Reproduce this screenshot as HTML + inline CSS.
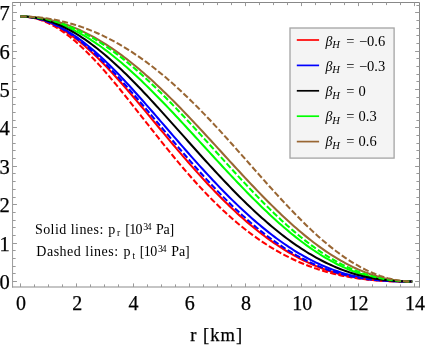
<!DOCTYPE html>
<html><head><meta charset="utf-8"><title>plot</title>
<style>
html,body{margin:0;padding:0;background:#fff;}
svg{display:block;opacity:0.999;will-change:transform;font-family:"Liberation Serif",serif;}
.ax text{font-size:20px;fill:#000;stroke:#000;stroke-width:0.25px;}
.lg{font-size:14.5px;fill:#000;}
.an{font-size:14px;fill:#000;} .sm{font-size:9.6px;fill:#000;}
</style></head><body>
<svg width="425" height="348" viewBox="0 0 425 348">
<rect width="425" height="348" fill="#fff"/>
<g fill="none" stroke-width="2.05" stroke-linecap="butt" stroke-linejoin="round">
<path d="M20.50 16.50 L22.96 16.55 L25.43 16.68 L27.89 16.91 L30.35 17.24 L32.82 17.65 L35.28 18.16 L37.75 18.75 L40.21 19.44 L42.67 20.21 L45.14 21.07 L47.60 22.02 L50.06 23.06 L52.53 24.18 L54.99 25.38 L57.45 26.67 L59.92 28.04 L62.38 29.48 L64.84 31.01 L67.31 32.61 L69.77 34.29 L72.24 36.04 L74.70 37.86 L77.16 39.75 L79.63 41.70 L82.09 43.73 L84.55 45.81 L87.02 47.96 L89.48 50.17 L91.94 52.43 L94.41 54.75 L96.87 57.12 L99.33 59.54 L101.80 62.01 L104.26 64.53 L106.73 67.09 L109.19 69.69 L111.65 72.33 L114.12 75.01 L116.58 77.72 L119.04 80.47 L121.51 83.24 L123.97 86.04 L126.43 88.87 L128.90 91.72 L131.36 94.60 L133.82 97.49 L136.29 100.40 L138.75 103.32 L141.22 106.26 L143.68 109.21 L146.14 112.16 L148.61 115.12 L151.07 118.09 L153.53 121.06 L156.00 124.03 L158.46 127.01 L160.92 129.97 L163.39 132.94 L165.85 135.90 L168.31 138.85 L170.78 141.79 L173.24 144.72 L175.71 147.64 L178.17 150.55 L180.63 153.44 L183.10 156.32 L185.56 159.17 L188.02 162.01 L190.49 164.83 L192.95 167.63 L195.41 170.41 L197.88 173.16 L200.34 175.89 L202.80 178.60 L205.27 181.28 L207.73 183.93 L210.20 186.55 L212.66 189.15 L215.12 191.71 L217.59 194.25 L220.05 196.76 L222.51 199.23 L224.98 201.67 L227.44 204.08 L229.90 206.46 L232.37 208.80 L234.83 211.11 L237.29 213.38 L239.76 215.62 L242.22 217.82 L244.69 219.99 L247.15 222.12 L249.61 224.21 L252.08 226.27 L254.54 228.29 L257.00 230.27 L259.47 232.22 L261.93 234.12 L264.39 235.99 L266.86 237.82 L269.32 239.61 L271.78 241.36 L274.25 243.07 L276.71 244.74 L279.18 246.37 L281.64 247.97 L284.10 249.52 L286.57 251.03 L289.03 252.51 L291.49 253.94 L293.96 255.34 L296.42 256.69 L298.88 258.00 L301.35 259.28 L303.81 260.51 L306.27 261.70 L308.74 262.86 L311.20 263.97 L313.67 265.05 L316.13 266.08 L318.59 267.08 L321.06 268.04 L323.52 268.96 L325.98 269.84 L328.45 270.68 L330.91 271.49 L333.37 272.25 L335.84 272.98 L338.30 273.68 L340.77 274.34 L343.23 274.96 L345.69 275.55 L348.16 276.10 L350.62 276.62 L353.08 277.11 L355.55 277.57 L358.01 277.99 L360.47 278.39 L362.94 278.75 L365.40 279.09 L367.86 279.40 L370.33 279.68 L372.79 279.94 L375.26 280.17 L377.72 280.38 L380.18 280.57 L382.65 280.73 L385.11 280.88 L387.57 281.01 L390.04 281.12 L392.50 281.21 L394.96 281.29 L397.43 281.35 L399.89 281.40 L402.35 281.44 L404.82 281.47 L407.28 281.49 L409.75 281.50 L412.21 281.50" stroke="#ff0000"/>
<path d="M20.50 16.50 L22.96 16.54 L25.43 16.67 L27.89 16.87 L30.35 17.16 L32.82 17.53 L35.28 17.98 L37.75 18.52 L40.21 19.13 L42.67 19.83 L45.14 20.60 L47.60 21.46 L50.06 22.39 L52.53 23.39 L54.99 24.48 L57.45 25.64 L59.92 26.87 L62.38 28.18 L64.84 29.55 L67.31 31.00 L69.77 32.52 L72.24 34.10 L74.70 35.75 L77.16 37.46 L79.63 39.24 L82.09 41.08 L84.55 42.97 L87.02 44.93 L89.48 46.94 L91.94 49.01 L94.41 51.13 L96.87 53.30 L99.33 55.52 L101.80 57.79 L104.26 60.10 L106.73 62.46 L109.19 64.85 L111.65 67.29 L114.12 69.77 L116.58 72.28 L119.04 74.83 L121.51 77.41 L123.97 80.02 L126.43 82.65 L128.90 85.32 L131.36 88.01 L133.82 90.72 L136.29 93.46 L138.75 96.21 L141.22 98.98 L143.68 101.77 L146.14 104.57 L148.61 107.38 L151.07 110.21 L153.53 113.04 L156.00 115.88 L158.46 118.72 L160.92 121.57 L163.39 124.43 L165.85 127.28 L168.31 130.13 L170.78 132.99 L173.24 135.83 L175.71 138.68 L178.17 141.52 L180.63 144.35 L183.10 147.17 L185.56 149.98 L188.02 152.78 L190.49 155.57 L192.95 158.34 L195.41 161.10 L197.88 163.85 L200.34 166.58 L202.80 169.29 L205.27 171.98 L207.73 174.65 L210.20 177.31 L212.66 179.94 L215.12 182.54 L217.59 185.13 L220.05 187.69 L222.51 190.23 L224.98 192.74 L227.44 195.22 L229.90 197.68 L232.37 200.11 L234.83 202.51 L237.29 204.88 L239.76 207.23 L242.22 209.54 L244.69 211.82 L247.15 214.08 L249.61 216.29 L252.08 218.48 L254.54 220.64 L257.00 222.76 L259.47 224.84 L261.93 226.90 L264.39 228.91 L266.86 230.90 L269.32 232.84 L271.78 234.75 L274.25 236.63 L276.71 238.46 L279.18 240.26 L281.64 242.02 L284.10 243.75 L286.57 245.43 L289.03 247.08 L291.49 248.69 L293.96 250.26 L296.42 251.79 L298.88 253.27 L301.35 254.72 L303.81 256.13 L306.27 257.50 L308.74 258.83 L311.20 260.12 L313.67 261.36 L316.13 262.57 L318.59 263.73 L321.06 264.86 L323.52 265.94 L325.98 266.98 L328.45 267.98 L330.91 268.94 L333.37 269.86 L335.84 270.74 L338.30 271.58 L340.77 272.38 L343.23 273.14 L345.69 273.86 L348.16 274.54 L350.62 275.19 L353.08 275.80 L355.55 276.37 L358.01 276.90 L360.47 277.40 L362.94 277.86 L365.40 278.29 L367.86 278.69 L370.33 279.06 L372.79 279.39 L375.26 279.70 L377.72 279.97 L380.18 280.22 L382.65 280.44 L385.11 280.64 L387.57 280.81 L390.04 280.96 L392.50 281.09 L394.96 281.19 L397.43 281.28 L399.89 281.36 L402.35 281.41 L404.82 281.45 L407.28 281.48 L409.75 281.50 L412.21 281.50" stroke="#0000ff"/>
<path d="M20.50 16.50 L22.96 16.53 L25.43 16.62 L27.89 16.77 L30.35 16.97 L32.82 17.24 L35.28 17.57 L37.75 17.95 L40.21 18.39 L42.67 18.89 L45.14 19.45 L47.60 20.07 L50.06 20.75 L52.53 21.48 L54.99 22.26 L57.45 23.11 L59.92 24.01 L62.38 24.96 L64.84 25.98 L67.31 27.04 L69.77 28.16 L72.24 29.33 L74.70 30.55 L77.16 31.83 L79.63 33.16 L82.09 34.53 L84.55 35.96 L87.02 37.44 L89.48 38.96 L91.94 40.54 L94.41 42.16 L96.87 43.82 L99.33 45.53 L101.80 47.29 L104.26 49.08 L106.73 50.92 L109.19 52.81 L111.65 54.73 L114.12 56.69 L116.58 58.69 L119.04 60.73 L121.51 62.81 L123.97 64.92 L126.43 67.07 L128.90 69.25 L131.36 71.46 L133.82 73.71 L136.29 75.98 L138.75 78.29 L141.22 80.62 L143.68 82.98 L146.14 85.37 L148.61 87.78 L151.07 90.22 L153.53 92.68 L156.00 95.16 L158.46 97.67 L160.92 100.19 L163.39 102.73 L165.85 105.29 L168.31 107.87 L170.78 110.46 L173.24 113.07 L175.71 115.69 L178.17 118.32 L180.63 120.96 L183.10 123.61 L185.56 126.27 L188.02 128.94 L190.49 131.62 L192.95 134.30 L195.41 136.98 L197.88 139.67 L200.34 142.36 L202.80 145.05 L205.27 147.74 L207.73 150.43 L210.20 153.12 L212.66 155.80 L215.12 158.48 L217.59 161.16 L220.05 163.82 L222.51 166.48 L224.98 169.14 L227.44 171.78 L229.90 174.41 L232.37 177.03 L234.83 179.63 L237.29 182.22 L239.76 184.80 L242.22 187.36 L244.69 189.90 L247.15 192.43 L249.61 194.93 L252.08 197.42 L254.54 199.89 L257.00 202.33 L259.47 204.75 L261.93 207.14 L264.39 209.51 L266.86 211.86 L269.32 214.18 L271.78 216.46 L274.25 218.73 L276.71 220.96 L279.18 223.16 L281.64 225.32 L284.10 227.46 L286.57 229.56 L289.03 231.63 L291.49 233.67 L293.96 235.66 L296.42 237.63 L298.88 239.55 L301.35 241.44 L303.81 243.28 L306.27 245.09 L308.74 246.86 L311.20 248.59 L313.67 250.27 L316.13 251.91 L318.59 253.51 L321.06 255.07 L323.52 256.58 L325.98 258.05 L328.45 259.48 L330.91 260.86 L333.37 262.19 L335.84 263.48 L338.30 264.72 L340.77 265.92 L343.23 267.07 L345.69 268.17 L348.16 269.23 L350.62 270.24 L353.08 271.20 L355.55 272.12 L358.01 272.99 L360.47 273.82 L362.94 274.60 L365.40 275.33 L367.86 276.02 L370.33 276.66 L372.79 277.26 L375.26 277.82 L377.72 278.33 L380.18 278.80 L382.65 279.23 L385.11 279.62 L387.57 279.96 L390.04 280.27 L392.50 280.55 L394.96 280.78 L397.43 280.98 L399.89 281.14 L402.35 281.28 L404.82 281.38 L407.28 281.45 L409.75 281.49 L412.21 281.50" stroke="#00ff00"/>
<path d="M20.50 16.50 L22.96 16.52 L25.43 16.59 L27.89 16.71 L30.35 16.88 L32.82 17.09 L35.28 17.35 L37.75 17.66 L40.21 18.01 L42.67 18.42 L45.14 18.86 L47.60 19.36 L50.06 19.90 L52.53 20.49 L54.99 21.13 L57.45 21.81 L59.92 22.54 L62.38 23.31 L64.84 24.13 L67.31 25.00 L69.77 25.91 L72.24 26.87 L74.70 27.87 L77.16 28.92 L79.63 30.01 L82.09 31.15 L84.55 32.33 L87.02 33.56 L89.48 34.83 L91.94 36.14 L94.41 37.50 L96.87 38.90 L99.33 40.34 L101.80 41.82 L104.26 43.35 L106.73 44.91 L109.19 46.52 L111.65 48.17 L114.12 49.86 L116.58 51.58 L119.04 53.35 L121.51 55.15 L123.97 57.00 L126.43 58.88 L128.90 60.79 L131.36 62.75 L133.82 64.74 L136.29 66.76 L138.75 68.82 L141.22 70.91 L143.68 73.04 L146.14 75.19 L148.61 77.38 L151.07 79.60 L153.53 81.85 L156.00 84.13 L158.46 86.44 L160.92 88.77 L163.39 91.14 L165.85 93.52 L168.31 95.94 L170.78 98.37 L173.24 100.83 L175.71 103.31 L178.17 105.82 L180.63 108.34 L183.10 110.88 L185.56 113.44 L188.02 116.02 L190.49 118.61 L192.95 121.22 L195.41 123.84 L197.88 126.47 L200.34 129.12 L202.80 131.77 L205.27 134.44 L207.73 137.11 L210.20 139.79 L212.66 142.48 L215.12 145.17 L217.59 147.86 L220.05 150.55 L222.51 153.25 L224.98 155.94 L227.44 158.63 L229.90 161.32 L232.37 164.01 L234.83 166.69 L237.29 169.36 L239.76 172.03 L242.22 174.68 L244.69 177.33 L247.15 179.96 L249.61 182.58 L252.08 185.19 L254.54 187.78 L257.00 190.35 L259.47 192.91 L261.93 195.44 L264.39 197.96 L266.86 200.46 L269.32 202.93 L271.78 205.38 L274.25 207.80 L276.71 210.20 L279.18 212.58 L281.64 214.92 L284.10 217.24 L286.57 219.52 L289.03 221.78 L291.49 224.00 L293.96 226.19 L296.42 228.35 L298.88 230.47 L301.35 232.56 L303.81 234.61 L306.27 236.62 L308.74 238.60 L311.20 240.54 L313.67 242.44 L316.13 244.30 L318.59 246.12 L321.06 247.90 L323.52 249.63 L325.98 251.33 L328.45 252.98 L330.91 254.59 L333.37 256.16 L335.84 257.68 L338.30 259.15 L340.77 260.59 L343.23 261.97 L345.69 263.32 L348.16 264.61 L350.62 265.86 L353.08 267.06 L355.55 268.22 L358.01 269.33 L360.47 270.39 L362.94 271.41 L365.40 272.38 L367.86 273.30 L370.33 274.17 L372.79 275.00 L375.26 275.77 L377.72 276.50 L380.18 277.18 L382.65 277.81 L385.11 278.39 L387.57 278.93 L390.04 279.41 L392.50 279.84 L394.96 280.23 L397.43 280.56 L399.89 280.85 L402.35 281.08 L404.82 281.26 L407.28 281.39 L409.75 281.47 L412.21 281.50" stroke="#996633"/>
<path d="M20.50 16.50 L22.96 16.55 L25.43 16.71 L27.89 16.98 L30.35 17.35 L32.82 17.82 L35.28 18.40 L37.75 19.08 L40.21 19.86 L42.67 20.75 L45.14 21.74 L47.60 22.82 L50.06 24.00 L52.53 25.28 L54.99 26.66 L57.45 28.12 L59.92 29.68 L62.38 31.33 L64.84 33.06 L67.31 34.88 L69.77 36.78 L72.24 38.76 L74.70 40.82 L77.16 42.96 L79.63 45.16 L82.09 47.44 L84.55 49.79 L87.02 52.20 L89.48 54.68 L91.94 57.21 L94.41 59.80 L96.87 62.44 L99.33 65.14 L101.80 67.88 L104.26 70.67 L106.73 73.51 L109.19 76.38 L111.65 79.29 L114.12 82.23 L116.58 85.20 L119.04 88.21 L121.51 91.24 L123.97 94.29 L126.43 97.36 L128.90 100.45 L131.36 103.55 L133.82 106.66 L136.29 109.79 L138.75 112.92 L141.22 116.06 L143.68 119.20 L146.14 122.33 L148.61 125.47 L151.07 128.60 L153.53 131.72 L156.00 134.84 L158.46 137.94 L160.92 141.04 L163.39 144.11 L165.85 147.17 L168.31 150.21 L170.78 153.23 L173.24 156.23 L175.71 159.21 L178.17 162.16 L180.63 165.09 L183.10 167.99 L185.56 170.86 L188.02 173.70 L190.49 176.50 L192.95 179.28 L195.41 182.02 L197.88 184.73 L200.34 187.41 L202.80 190.05 L205.27 192.65 L207.73 195.22 L210.20 197.74 L212.66 200.23 L215.12 202.68 L217.59 205.10 L220.05 207.47 L222.51 209.80 L224.98 212.09 L227.44 214.34 L229.90 216.55 L232.37 218.72 L234.83 220.85 L237.29 222.94 L239.76 224.98 L242.22 226.99 L244.69 228.95 L247.15 230.87 L249.61 232.75 L252.08 234.59 L254.54 236.39 L257.00 238.15 L259.47 239.86 L261.93 241.54 L264.39 243.17 L266.86 244.76 L269.32 246.32 L271.78 247.83 L274.25 249.31 L276.71 250.74 L279.18 252.14 L281.64 253.50 L284.10 254.81 L286.57 256.10 L289.03 257.34 L291.49 258.54 L293.96 259.71 L296.42 260.84 L298.88 261.94 L301.35 263.00 L303.81 264.02 L306.27 265.01 L308.74 265.96 L311.20 266.88 L313.67 267.77 L316.13 268.62 L318.59 269.44 L321.06 270.22 L323.52 270.98 L325.98 271.70 L328.45 272.39 L330.91 273.05 L333.37 273.68 L335.84 274.28 L338.30 274.85 L340.77 275.39 L343.23 275.90 L345.69 276.39 L348.16 276.85 L350.62 277.28 L353.08 277.68 L355.55 278.07 L358.01 278.42 L360.47 278.75 L362.94 279.06 L365.40 279.35 L367.86 279.61 L370.33 279.86 L372.79 280.08 L375.26 280.28 L377.72 280.47 L380.18 280.63 L382.65 280.78 L385.11 280.91 L387.57 281.03 L390.04 281.13 L392.50 281.22 L394.96 281.29 L397.43 281.35 L399.89 281.40 L402.35 281.44 L404.82 281.47 L407.28 281.49 L409.75 281.50 L412.21 281.50" stroke="#ff0000" stroke-dasharray="6 2.4"/>
<path d="M20.50 16.50 L22.96 16.54 L25.43 16.68 L27.89 16.90 L30.35 17.20 L32.82 17.60 L35.28 18.08 L37.75 18.64 L40.21 19.30 L42.67 20.03 L45.14 20.86 L47.60 21.76 L50.06 22.75 L52.53 23.82 L54.99 24.97 L57.45 26.20 L59.92 27.50 L62.38 28.88 L64.84 30.34 L67.31 31.88 L69.77 33.48 L72.24 35.16 L74.70 36.90 L77.16 38.71 L79.63 40.59 L82.09 42.53 L84.55 44.54 L87.02 46.60 L89.48 48.73 L91.94 50.91 L94.41 53.14 L96.87 55.43 L99.33 57.76 L101.80 60.15 L104.26 62.58 L106.73 65.06 L109.19 67.58 L111.65 70.14 L114.12 72.74 L116.58 75.37 L119.04 78.04 L121.51 80.74 L123.97 83.47 L126.43 86.22 L128.90 89.01 L131.36 91.81 L133.82 94.64 L136.29 97.49 L138.75 100.36 L141.22 103.24 L143.68 106.13 L146.14 109.04 L148.61 111.95 L151.07 114.88 L153.53 117.81 L156.00 120.74 L158.46 123.68 L160.92 126.62 L163.39 129.56 L165.85 132.49 L168.31 135.42 L170.78 138.35 L173.24 141.27 L175.71 144.18 L178.17 147.08 L180.63 149.97 L183.10 152.84 L185.56 155.71 L188.02 158.55 L190.49 161.38 L192.95 164.19 L195.41 166.99 L197.88 169.76 L200.34 172.51 L202.80 175.24 L205.27 177.94 L207.73 180.62 L210.20 183.28 L212.66 185.91 L215.12 188.51 L217.59 191.09 L220.05 193.63 L222.51 196.15 L224.98 198.63 L227.44 201.09 L229.90 203.51 L232.37 205.91 L234.83 208.26 L237.29 210.59 L239.76 212.88 L242.22 215.14 L244.69 217.36 L247.15 219.55 L249.61 221.70 L252.08 223.81 L254.54 225.89 L257.00 227.93 L259.47 229.93 L261.93 231.90 L264.39 233.82 L266.86 235.71 L269.32 237.56 L271.78 239.37 L274.25 241.14 L276.71 242.87 L279.18 244.56 L281.64 246.22 L284.10 247.83 L286.57 249.40 L289.03 250.93 L291.49 252.42 L293.96 253.87 L296.42 255.28 L298.88 256.65 L301.35 257.97 L303.81 259.26 L306.27 260.51 L308.74 261.71 L311.20 262.88 L313.67 264.00 L316.13 265.09 L318.59 266.13 L321.06 267.14 L323.52 268.10 L325.98 269.03 L328.45 269.91 L330.91 270.76 L333.37 271.57 L335.84 272.34 L338.30 273.07 L340.77 273.77 L343.23 274.43 L345.69 275.06 L348.16 275.65 L350.62 276.20 L353.08 276.72 L355.55 277.21 L358.01 277.67 L360.47 278.09 L362.94 278.48 L365.40 278.85 L367.86 279.18 L370.33 279.49 L372.79 279.77 L375.26 280.02 L377.72 280.25 L380.18 280.45 L382.65 280.64 L385.11 280.80 L387.57 280.94 L390.04 281.06 L392.50 281.17 L394.96 281.25 L397.43 281.33 L399.89 281.38 L402.35 281.43 L404.82 281.46 L407.28 281.48 L409.75 281.50 L412.21 281.50" stroke="#0000ff" stroke-dasharray="6 2.4"/>
<path d="M20.50 16.50 L22.96 16.53 L25.43 16.64 L27.89 16.81 L30.35 17.06 L32.82 17.37 L35.28 17.76 L37.75 18.21 L40.21 18.73 L42.67 19.32 L45.14 19.98 L47.60 20.70 L50.06 21.49 L52.53 22.35 L54.99 23.27 L57.45 24.26 L59.92 25.32 L62.38 26.43 L64.84 27.61 L67.31 28.86 L69.77 30.16 L72.24 31.52 L74.70 32.94 L77.16 34.43 L79.63 35.97 L82.09 37.56 L84.55 39.21 L87.02 40.92 L89.48 42.67 L91.94 44.48 L94.41 46.34 L96.87 48.25 L99.33 50.21 L101.80 52.22 L104.26 54.27 L106.73 56.36 L109.19 58.50 L111.65 60.68 L114.12 62.90 L116.58 65.16 L119.04 67.45 L121.51 69.79 L123.97 72.15 L126.43 74.55 L128.90 76.99 L131.36 79.45 L133.82 81.94 L136.29 84.46 L138.75 87.01 L141.22 89.58 L143.68 92.17 L146.14 94.79 L148.61 97.42 L151.07 100.08 L153.53 102.75 L156.00 105.44 L158.46 108.14 L160.92 110.85 L163.39 113.58 L165.85 116.32 L168.31 119.07 L170.78 121.82 L173.24 124.58 L175.71 127.35 L178.17 130.12 L180.63 132.89 L183.10 135.66 L185.56 138.43 L188.02 141.20 L190.49 143.97 L192.95 146.73 L195.41 149.49 L197.88 152.24 L200.34 154.99 L202.80 157.72 L205.27 160.44 L207.73 163.16 L210.20 165.86 L212.66 168.54 L215.12 171.22 L217.59 173.87 L220.05 176.51 L222.51 179.14 L224.98 181.74 L227.44 184.32 L229.90 186.88 L232.37 189.43 L234.83 191.94 L237.29 194.44 L239.76 196.91 L242.22 199.36 L244.69 201.77 L247.15 204.17 L249.61 206.53 L252.08 208.87 L254.54 211.18 L257.00 213.45 L259.47 215.70 L261.93 217.91 L264.39 220.10 L266.86 222.25 L269.32 224.36 L271.78 226.45 L274.25 228.50 L276.71 230.51 L279.18 232.49 L281.64 234.43 L284.10 236.33 L286.57 238.20 L289.03 240.03 L291.49 241.82 L293.96 243.57 L296.42 245.29 L298.88 246.96 L301.35 248.60 L303.81 250.19 L306.27 251.75 L308.74 253.26 L311.20 254.74 L313.67 256.17 L316.13 257.56 L318.59 258.91 L321.06 260.22 L323.52 261.49 L325.98 262.71 L328.45 263.90 L330.91 265.04 L333.37 266.14 L335.84 267.20 L338.30 268.22 L340.77 269.19 L343.23 270.13 L345.69 271.02 L348.16 271.87 L350.62 272.69 L353.08 273.46 L355.55 274.19 L358.01 274.89 L360.47 275.54 L362.94 276.16 L365.40 276.74 L367.86 277.28 L370.33 277.78 L372.79 278.25 L375.26 278.68 L377.72 279.08 L380.18 279.44 L382.65 279.77 L385.11 280.07 L387.57 280.34 L390.04 280.57 L392.50 280.78 L394.96 280.96 L397.43 281.11 L399.89 281.23 L402.35 281.33 L404.82 281.41 L407.28 281.46 L409.75 281.49 L412.21 281.50" stroke="#000000"/>
<path d="M20.50 16.50 L22.96 16.53 L25.43 16.60 L27.89 16.73 L30.35 16.91 L32.82 17.14 L35.28 17.42 L37.75 17.75 L40.21 18.13 L42.67 18.56 L45.14 19.04 L47.60 19.58 L50.06 20.16 L52.53 20.79 L54.99 21.48 L57.45 22.21 L59.92 22.99 L62.38 23.82 L64.84 24.70 L67.31 25.63 L69.77 26.61 L72.24 27.63 L74.70 28.70 L77.16 29.82 L79.63 30.99 L82.09 32.21 L84.55 33.47 L87.02 34.78 L89.48 36.13 L91.94 37.53 L94.41 38.97 L96.87 40.46 L99.33 41.99 L101.80 43.57 L104.26 45.19 L106.73 46.85 L109.19 48.55 L111.65 50.29 L114.12 52.08 L116.58 53.90 L119.04 55.77 L121.51 57.67 L123.97 59.62 L126.43 61.60 L128.90 63.61 L131.36 65.67 L133.82 67.75 L136.29 69.88 L138.75 72.04 L141.22 74.23 L143.68 76.45 L146.14 78.71 L148.61 80.99 L151.07 83.31 L153.53 85.65 L156.00 88.02 L158.46 90.42 L160.92 92.85 L163.39 95.30 L165.85 97.78 L168.31 100.28 L170.78 102.80 L173.24 105.34 L175.71 107.90 L178.17 110.49 L180.63 113.09 L183.10 115.70 L185.56 118.34 L188.02 120.98 L190.49 123.65 L192.95 126.32 L195.41 129.00 L197.88 131.70 L200.34 134.40 L202.80 137.11 L205.27 139.83 L207.73 142.56 L210.20 145.28 L212.66 148.01 L215.12 150.74 L217.59 153.47 L220.05 156.20 L222.51 158.93 L224.98 161.66 L227.44 164.38 L229.90 167.09 L232.37 169.79 L234.83 172.49 L237.29 175.18 L239.76 177.85 L242.22 180.52 L244.69 183.16 L247.15 185.80 L249.61 188.41 L252.08 191.01 L254.54 193.60 L257.00 196.16 L259.47 198.69 L261.93 201.21 L264.39 203.70 L266.86 206.17 L269.32 208.61 L271.78 211.03 L274.25 213.42 L276.71 215.77 L279.18 218.10 L281.64 220.39 L284.10 222.66 L286.57 224.89 L289.03 227.08 L291.49 229.24 L293.96 231.36 L296.42 233.45 L298.88 235.49 L301.35 237.50 L303.81 239.47 L306.27 241.40 L308.74 243.28 L311.20 245.13 L313.67 246.93 L316.13 248.69 L318.59 250.40 L321.06 252.07 L323.52 253.70 L325.98 255.28 L328.45 256.81 L330.91 258.30 L333.37 259.75 L335.84 261.14 L338.30 262.49 L340.77 263.79 L343.23 265.04 L345.69 266.25 L348.16 267.41 L350.62 268.52 L353.08 269.59 L355.55 270.60 L358.01 271.57 L360.47 272.49 L362.94 273.37 L365.40 274.19 L367.86 274.97 L370.33 275.71 L372.79 276.39 L375.26 277.04 L377.72 277.63 L380.18 278.18 L382.65 278.69 L385.11 279.15 L387.57 279.57 L390.04 279.95 L392.50 280.28 L394.96 280.57 L397.43 280.82 L399.89 281.03 L402.35 281.20 L404.82 281.33 L407.28 281.43 L409.75 281.48 L412.21 281.50" stroke="#00ff00" stroke-dasharray="6 2.4"/>
<path d="M20.50 16.50 L22.96 16.52 L25.43 16.57 L27.89 16.65 L30.35 16.77 L32.82 16.92 L35.28 17.11 L37.75 17.33 L40.21 17.58 L42.67 17.87 L45.14 18.19 L47.60 18.54 L50.06 18.93 L52.53 19.35 L54.99 19.81 L57.45 20.30 L59.92 20.83 L62.38 21.39 L64.84 21.99 L67.31 22.62 L69.77 23.29 L72.24 23.99 L74.70 24.72 L77.16 25.50 L79.63 26.30 L82.09 27.15 L84.55 28.03 L87.02 28.94 L89.48 29.89 L91.94 30.88 L94.41 31.90 L96.87 32.96 L99.33 34.06 L101.80 35.19 L104.26 36.36 L106.73 37.57 L109.19 38.81 L111.65 40.09 L114.12 41.41 L116.58 42.76 L119.04 44.15 L121.51 45.58 L123.97 47.05 L126.43 48.55 L128.90 50.09 L131.36 51.67 L133.82 53.28 L136.29 54.94 L138.75 56.62 L141.22 58.35 L143.68 60.11 L146.14 61.91 L148.61 63.74 L151.07 65.62 L153.53 67.52 L156.00 69.47 L158.46 71.44 L160.92 73.46 L163.39 75.50 L165.85 77.59 L168.31 79.70 L170.78 81.85 L173.24 84.03 L175.71 86.25 L178.17 88.50 L180.63 90.78 L183.10 93.09 L185.56 95.43 L188.02 97.80 L190.49 100.19 L192.95 102.62 L195.41 105.07 L197.88 107.55 L200.34 110.06 L202.80 112.59 L205.27 115.15 L207.73 117.73 L210.20 120.33 L212.66 122.95 L215.12 125.59 L217.59 128.25 L220.05 130.93 L222.51 133.62 L224.98 136.33 L227.44 139.05 L229.90 141.79 L232.37 144.54 L234.83 147.29 L237.29 150.06 L239.76 152.84 L242.22 155.62 L244.69 158.40 L247.15 161.19 L249.61 163.98 L252.08 166.78 L254.54 169.57 L257.00 172.35 L259.47 175.14 L261.93 177.91 L264.39 180.69 L266.86 183.45 L269.32 186.20 L271.78 188.94 L274.25 191.66 L276.71 194.38 L279.18 197.07 L281.64 199.75 L284.10 202.40 L286.57 205.04 L289.03 207.65 L291.49 210.23 L293.96 212.79 L296.42 215.33 L298.88 217.83 L301.35 220.31 L303.81 222.75 L306.27 225.16 L308.74 227.53 L311.20 229.87 L313.67 232.16 L316.13 234.42 L318.59 236.64 L321.06 238.82 L323.52 240.96 L325.98 243.05 L328.45 245.09 L330.91 247.09 L333.37 249.04 L335.84 250.95 L338.30 252.80 L340.77 254.60 L343.23 256.35 L345.69 258.05 L348.16 259.70 L350.62 261.29 L353.08 262.82 L355.55 264.30 L358.01 265.72 L360.47 267.09 L362.94 268.39 L365.40 269.64 L367.86 270.83 L370.33 271.96 L372.79 273.03 L375.26 274.04 L377.72 274.98 L380.18 275.87 L382.65 276.69 L385.11 277.45 L387.57 278.14 L390.04 278.77 L392.50 279.34 L394.96 279.84 L397.43 280.28 L399.89 280.65 L402.35 280.95 L404.82 281.19 L407.28 281.36 L409.75 281.47 L412.21 281.50" stroke="#996633" stroke-dasharray="6 2.4"/>
</g>
<g fill="none" stroke-linecap="square"><path d="M12.55 2.5 H419.5 V287.0" stroke="#888" stroke-width="1"/><path d="M12.55 2.5 V287.0" stroke="#9c9c9c" stroke-width="1"/><path d="M12.55 287.0 H419.5" stroke="#8c8c8c" stroke-width="1.1"/></g>
<path d="M20.50 287.0 v-3.6 M20.50 2.5 v3.6 M34.50 287.0 v-2.6 M34.50 2.5 v2.6 M48.50 287.0 v-2.6 M48.50 2.5 v2.6 M62.50 287.0 v-2.6 M62.50 2.5 v2.6 M76.50 287.0 v-3.6 M76.50 2.5 v3.6 M90.50 287.0 v-2.6 M90.50 2.5 v2.6 M104.50 287.0 v-2.6 M104.50 2.5 v2.6 M118.50 287.0 v-2.6 M118.50 2.5 v2.6 M133.50 287.0 v-3.6 M133.50 2.5 v3.6 M147.50 287.0 v-2.6 M147.50 2.5 v2.6 M161.50 287.0 v-2.6 M161.50 2.5 v2.6 M175.50 287.0 v-2.6 M175.50 2.5 v2.6 M189.50 287.0 v-3.6 M189.50 2.5 v3.6 M203.50 287.0 v-2.6 M203.50 2.5 v2.6 M217.50 287.0 v-2.6 M217.50 2.5 v2.6 M231.50 287.0 v-2.6 M231.50 2.5 v2.6 M245.50 287.0 v-3.6 M245.50 2.5 v3.6 M259.50 287.0 v-2.6 M259.50 2.5 v2.6 M273.50 287.0 v-2.6 M273.50 2.5 v2.6 M287.50 287.0 v-2.6 M287.50 2.5 v2.6 M301.50 287.0 v-3.6 M301.50 2.5 v3.6 M315.50 287.0 v-2.6 M315.50 2.5 v2.6 M330.50 287.0 v-2.6 M330.50 2.5 v2.6 M344.50 287.0 v-2.6 M344.50 2.5 v2.6 M358.50 287.0 v-3.6 M358.50 2.5 v3.6 M372.50 287.0 v-2.6 M372.50 2.5 v2.6 M386.50 287.0 v-2.6 M386.50 2.5 v2.6 M400.50 287.0 v-2.6 M400.50 2.5 v2.6 M414.50 287.0 v-3.6 M414.50 2.5 v3.6 M12.55 281.50 h4.4 M419.5 281.50 h-4.4 M12.55 273.50 h3.1 M419.5 273.50 h-3.1 M12.55 266.50 h3.1 M419.5 266.50 h-3.1 M12.55 258.50 h3.1 M419.5 258.50 h-3.1 M12.55 250.50 h3.1 M419.5 250.50 h-3.1 M12.55 243.50 h4.4 M419.5 243.50 h-4.4 M12.55 235.50 h3.1 M419.5 235.50 h-3.1 M12.55 227.50 h3.1 M419.5 227.50 h-3.1 M12.55 220.50 h3.1 M419.5 220.50 h-3.1 M12.55 212.50 h3.1 M419.5 212.50 h-3.1 M12.55 204.50 h4.4 M419.5 204.50 h-4.4 M12.55 197.50 h3.1 M419.5 197.50 h-3.1 M12.55 189.50 h3.1 M419.5 189.50 h-3.1 M12.55 181.50 h3.1 M419.5 181.50 h-3.1 M12.55 173.50 h3.1 M419.5 173.50 h-3.1 M12.55 166.50 h4.4 M419.5 166.50 h-4.4 M12.55 158.50 h3.1 M419.5 158.50 h-3.1 M12.55 150.50 h3.1 M419.5 150.50 h-3.1 M12.55 143.50 h3.1 M419.5 143.50 h-3.1 M12.55 135.50 h3.1 M419.5 135.50 h-3.1 M12.55 127.50 h4.4 M419.5 127.50 h-4.4 M12.55 120.50 h3.1 M419.5 120.50 h-3.1 M12.55 112.50 h3.1 M419.5 112.50 h-3.1 M12.55 104.50 h3.1 M419.5 104.50 h-3.1 M12.55 97.50 h3.1 M419.5 97.50 h-3.1 M12.55 89.50 h4.4 M419.5 89.50 h-4.4 M12.55 81.50 h3.1 M419.5 81.50 h-3.1 M12.55 74.50 h3.1 M419.5 74.50 h-3.1 M12.55 66.50 h3.1 M419.5 66.50 h-3.1 M12.55 58.50 h3.1 M419.5 58.50 h-3.1 M12.55 51.50 h4.4 M419.5 51.50 h-4.4 M12.55 43.50 h3.1 M419.5 43.50 h-3.1 M12.55 35.50 h3.1 M419.5 35.50 h-3.1 M12.55 28.50 h3.1 M419.5 28.50 h-3.1 M12.55 20.50 h3.1 M419.5 20.50 h-3.1 M12.55 12.50 h4.4 M419.5 12.50 h-4.4 M12.55 5.50 h3.1 M419.5 5.50 h-3.1" stroke="#999" stroke-width="1" fill="none"/>
<g class="ax"><text x="20.9" y="310" text-anchor="middle">0</text><text x="77.2" y="310" text-anchor="middle">2</text><text x="133.5" y="310" text-anchor="middle">4</text><text x="189.7" y="310" text-anchor="middle">6</text><text x="246.0" y="310" text-anchor="middle">8</text><text x="302.3" y="310" text-anchor="middle">10</text><text x="358.6" y="310" text-anchor="middle">12</text><text x="414.9" y="310" text-anchor="middle">14</text><text style="font-size:20.5px" x="9.8" y="288.9" text-anchor="end">0</text><text style="font-size:20.5px" x="9.8" y="250.5" text-anchor="end">1</text><text style="font-size:20.5px" x="9.8" y="212.1" text-anchor="end">2</text><text style="font-size:20.5px" x="9.8" y="173.7" text-anchor="end">3</text><text style="font-size:20.5px" x="9.8" y="135.3" text-anchor="end">4</text><text style="font-size:20.5px" x="9.8" y="96.9" text-anchor="end">5</text><text style="font-size:20.5px" x="9.8" y="58.5" text-anchor="end">6</text><text style="font-size:20.5px" x="9.8" y="20.1" text-anchor="end">7</text>
<text x="190.2" y="341.4" style="font-size:18.5px" textLength="52" lengthAdjust="spacing">r [km]</text></g>
<rect x="290" y="28" width="104.1" height="130.1" fill="#f4f4f4" stroke="#a4a4a4" stroke-width="1.3"/>
<path d="M296.8 40.0 h22.3" stroke="#ff0000" stroke-width="1.7"/><text x="325.6" y="45.5" class="lg" style="font-size:13.8px" font-style="italic">β</text><text x="332.3" y="48.3" font-size="10.5" font-style="italic">H</text><text x="346.3" y="45.7" class="lg">=</text><text x="358.9" y="45.7" class="lg">−0.6</text><path d="M296.8 65.4 h22.3" stroke="#0000ff" stroke-width="1.7"/><text x="325.6" y="70.6" class="lg" style="font-size:13.8px" font-style="italic">β</text><text x="332.3" y="73.4" font-size="10.5" font-style="italic">H</text><text x="346.3" y="70.8" class="lg">=</text><text x="358.9" y="70.8" class="lg">−0.3</text><path d="M296.8 90.8 h22.3" stroke="#000000" stroke-width="1.7"/><text x="325.6" y="95.7" class="lg" style="font-size:13.8px" font-style="italic">β</text><text x="332.3" y="98.5" font-size="10.5" font-style="italic">H</text><text x="346.3" y="95.9" class="lg">=</text><text x="358.6" y="95.9" class="lg">0</text><path d="M296.8 116.2 h22.3" stroke="#00ff00" stroke-width="1.7"/><text x="325.6" y="120.8" class="lg" style="font-size:13.8px" font-style="italic">β</text><text x="332.3" y="123.6" font-size="10.5" font-style="italic">H</text><text x="346.3" y="121.0" class="lg">=</text><text x="358.6" y="121.0" class="lg">0.3</text><path d="M296.8 141.6 h22.3" stroke="#996633" stroke-width="1.7"/><text x="325.6" y="145.9" class="lg" style="font-size:13.8px" font-style="italic">β</text><text x="332.3" y="148.7" font-size="10.5" font-style="italic">H</text><text x="346.3" y="146.1" class="lg">=</text><text x="358.6" y="146.1" class="lg">0.6</text>
<g>
<text x="34.9" y="233.7" class="an" textLength="68.4" lengthAdjust="spacing">Solid lines:</text>
<text x="108.2" y="233.7" class="an">p</text><text x="116.9" y="236.3" class="sm">r</text>
<text x="125.2" y="233.7" class="an" textLength="17.4" lengthAdjust="spacing">[10</text><text x="143.2" y="229.6" class="sm" textLength="8.4" lengthAdjust="spacing">34</text>
<text x="156" y="233.7" class="an" textLength="18.2" lengthAdjust="spacing">Pa]</text>
<text x="36.3" y="256.3" class="an" textLength="81.8" lengthAdjust="spacing">Dashed lines:</text>
<text x="123.5" y="256.3" class="an">p</text><text x="132.4" y="258.9" class="sm">t</text>
<text x="139.8" y="256.3" class="an" textLength="17.4" lengthAdjust="spacing">[10</text><text x="157.9" y="252.2" class="sm" textLength="8.6" lengthAdjust="spacing">34</text>
<text x="171.3" y="256.3" class="an" textLength="18.4" lengthAdjust="spacing">Pa]</text>
</g>
</svg>
</body></html>
